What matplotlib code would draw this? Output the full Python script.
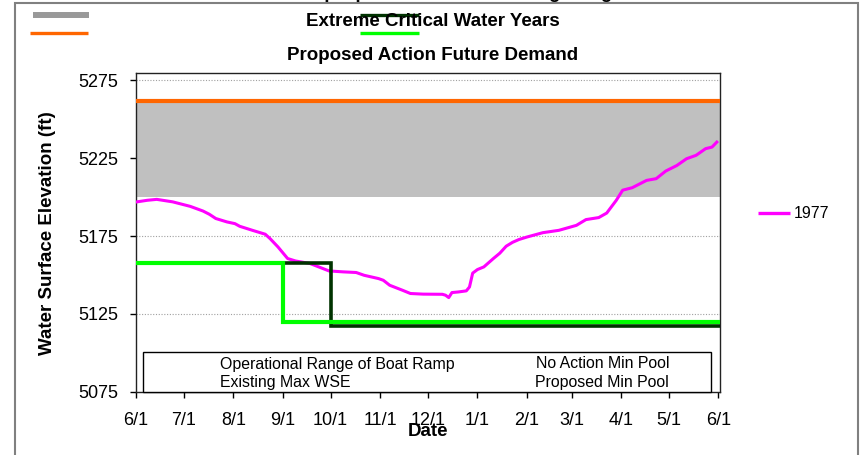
import datetime as dt
import matplotlib
matplotlib.use('Agg')
import matplotlib.pyplot as plt
import matplotlib.dates as mdates
from matplotlib.patches import Rectangle
from matplotlib.lines import Line2D
from matplotlib.ticker import FuncFormatter

plt.rcParams['font.family'] = ['Liberation Sans', 'DejaVu Sans']

W, H = 860, 455

def fx(x):
  return x / W

def fy(y):
  return 1 - y / H

# 1977 water year trace (ft), read at roughly weekly steps
dates_1977 = ['1976-06-01', '1976-06-08', '1976-06-14', '1976-06-24', '1976-07-05',
              '1976-07-13', '1976-07-17', '1976-07-21', '1976-07-28', '1976-08-02',
              '1976-08-05', '1976-08-13', '1976-08-21', '1976-08-24', '1976-08-29',
              '1976-09-04', '1976-09-09', '1976-09-18', '1976-09-30', '1976-10-09',
              '1976-10-17', '1976-10-22', '1976-10-31', '1976-11-03', '1976-11-07',
              '1976-11-15', '1976-11-20', '1976-11-28', '1976-12-10', '1976-12-12',
              '1976-12-14', '1976-12-16', '1976-12-20', '1976-12-25', '1976-12-27',
              '1976-12-29', '1977-01-01', '1977-01-05', '1977-01-11', '1977-01-15',
              '1977-01-19', '1977-01-23', '1977-01-27', '1977-02-01', '1977-02-11',
              '1977-02-21', '1977-03-04', '1977-03-10', '1977-03-18', '1977-03-23',
              '1977-03-29', '1977-04-02', '1977-04-08', '1977-04-17', '1977-04-23',
              '1977-04-29', '1977-05-06', '1977-05-12', '1977-05-18', '1977-05-24',
              '1977-05-28', '1977-05-31']
elev_1977 = [5196.9, 5198.0, 5198.6, 5197.0, 5194.1,
             5191.1, 5189.0, 5186.3, 5184.1, 5183.0,
             5181.3, 5178.7, 5176.2, 5173.4, 5168.0,
             5160.6, 5159.0, 5157.4, 5152.6, 5152.0,
             5151.6, 5149.8, 5147.7, 5146.6, 5143.4,
             5140.2, 5138.1, 5137.7, 5137.6, 5137.0,
             5135.5, 5138.7, 5139.1, 5139.8, 5142.3,
             5151.2, 5153.5, 5155.2, 5160.6, 5164.0,
             5168.5, 5171.0, 5172.8, 5174.4, 5177.2,
             5178.7, 5181.9, 5185.6, 5186.9, 5189.8,
             5198.0, 5204.5, 5206.1, 5210.8, 5211.9,
             5216.8, 5220.4, 5224.7, 5226.9, 5231.2,
             5232.2, 5235.4]

ramp_range = [5200, 5262]       # operational range of boat ramp
max_wse = 5262                  # existing max WSE
no_action_pool = [5157.5, 5117.5]
no_action_drop = '1976-10-01'
proposed_pool = [5157.5, 5120.0]
proposed_drop = '1976-09-01'

start, end = '1976-06-01', '1977-06-01'

def d(s):
  return dt.datetime.strptime(s, '%Y-%m-%d')

x77 = [d(s) for s in dates_1977]
t0, t1 = d(start), d(end)
t_end = t1 + dt.timedelta(days=2)

fig = plt.figure(figsize=(W / 100, H / 100), dpi=100)
ax = fig.add_axes([fx(136), fy(391.7), (720 - 136) / W, (391.7 - 72.7) / H])

# boat ramp band and max WSE
ax.fill_between([t0, t_end], ramp_range[0], ramp_range[1], color='#c0c0c0', lw=0, zorder=1)
ax.plot(x77, elev_1977, color='#ff00ff', lw=2.2, zorder=3)
ax.plot([t0, t_end], [max_wse, max_wse], color='#ff6600', lw=3.0, zorder=4)

# min pool steps
dn = d(no_action_drop)
ax.plot([t0, dn, dn, t_end],
        [no_action_pool[0], no_action_pool[0], no_action_pool[1], no_action_pool[1]],
        color='#003300', lw=2.6, zorder=5, solid_joinstyle='miter')
dp = d(proposed_drop)
ax.plot([t0, dp, dp, t_end],
        [proposed_pool[0], proposed_pool[0], proposed_pool[1], proposed_pool[1]],
        color='#00ff00', lw=3.0, zorder=6, solid_joinstyle='miter')

ax.set_xlim(t0, t1 + dt.timedelta(days=1))
ax.set_ylim(5075, 5280)
ax.set_yticks([5075, 5125, 5175, 5225, 5275])
ax.xaxis.set_major_locator(mdates.MonthLocator())
ax.xaxis.set_major_formatter(FuncFormatter(
  lambda v, pos: '%d/%d' % (mdates.num2date(v).month, mdates.num2date(v).day)))
for y in [5125, 5175, 5225, 5275]:
  ax.axhline(y, color='#a0a0a0', lw=0.8, ls=(0, (1, 1.5)), zorder=0)

ax.tick_params(axis='both', direction='out', length=4.5, width=1, labelsize=13, pad=8)
ax.tick_params(axis='x', pad=10)
for s in ax.spines.values():
  s.set_linewidth(1.0)
  s.set_color('#222222')

fig.text(fx(48), fy(233), 'Water Surface Elevation (ft)', rotation=90, fontsize=13.5,
         fontweight='bold', ha='center', va='center')
fig.text(fx(428), fy(431), 'Date', fontsize=13.5, fontweight='bold', ha='center', va='center')

# titles
fig.text(fx(430), fy(-1.5), 'Boat Ramp Operations with Existing Range', fontsize=13.5,
         fontweight='bold', ha='center', va='baseline')
fig.text(fx(433), fy(22), 'Extreme Critical Water Years', fontsize=13.5,
         fontweight='bold', ha='center', va='center')
fig.text(fx(432.5), fy(56), 'Proposed Action Future Demand', fontsize=13.5,
         fontweight='bold', ha='center', va='center')

# legend box inside the plot
fig.patches.append(Rectangle((fx(142.6), fy(391.7)), (711 - 142.6) / W, (391.7 - 351.7) / H,
                             transform=fig.transFigure, fill=True, facecolor='white',
                             edgecolor='black', lw=1.0, zorder=10))
leg = [('Operational Range of Boat Ramp', 220, 364), ('Existing Max WSE', 220, 382),
       ('No Action Min Pool', 536, 364), ('Proposed Min Pool', 535, 382)]
for txt, lx, ly in leg:
  fig.text(fx(lx), fy(ly), txt, fontsize=11.4, ha='left', va='center', zorder=11)

# legend keys up top
keys = [((33, 89), 15.3, '#999999', 4.3), ((30, 88), 33.3, '#ff6600', 2.4),
        ((360, 419), 15.0, '#003300', 2.4), ((360, 419), 33.3, '#00ff00', 2.4)]
for (xa, xb), ky, c, w in keys:
  fig.lines.append(Line2D([fx(xa), fx(xb)], [fy(ky), fy(ky)], color=c, lw=w,
                          transform=fig.transFigure, solid_capstyle='butt'))

# 1977 legend
fig.lines.append(Line2D([fx(758), fx(790)], [fy(213), fy(213)], color='#ff00ff', lw=2.4,
                        transform=fig.transFigure, solid_capstyle='butt'))
fig.text(fx(794), fy(213), '1977', fontsize=11.4, ha='left', va='center')

# chart frame
fig.patches.append(Rectangle((fx(14.5), fy(470)), (858 - 14.5) / W, (470 - 3) / H,
                             transform=fig.transFigure, fill=False, edgecolor='#808080',
                             lw=1.5, zorder=0))

fig.savefig('out.png', dpi=100)
